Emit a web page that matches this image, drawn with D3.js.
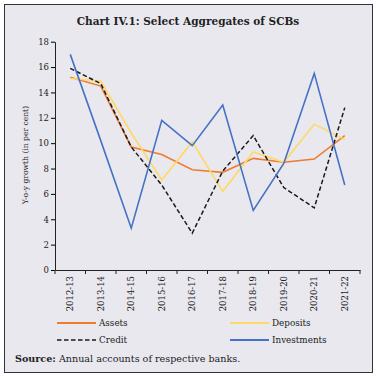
<!DOCTYPE html>
<html lang="en">
<head>
<meta charset="UTF-8">
<title>Chart IV.1: Select Aggregates of SCBs</title>
<script src="https://d3js.org/d3.v7.min.js"></script>
<style>
    body { margin: 0; background: #fff; }
    svg text { font-family: "DejaVu Serif", serif; fill: #222; }
</style>
</head>
<body>
<svg width="377" height="378"></svg>
<script>
    // data
    const years = ["2012-13","2013-14","2014-15","2015-16","2016-17","2017-18","2018-19","2019-20","2020-21","2021-22"];
    const assets      = [15.2, 14.5, 9.7, 9.1, 7.9, 7.7, 8.8, 8.5, 8.75, 10.6];
    const deposits    = [15.1, 14.9, 10.8, 7.1, 10.1, 6.2, 9.3, 8.5, 11.5, 10.3];
    const credit      = [15.9, 14.7, 9.7, 6.7, 2.9, 7.8, 10.6, 6.5, 4.9, 12.8];
    const investments = [17.0, 10.2, 3.3, 11.8, 9.8, 13.0, 4.7, 8.4, 15.5, 6.7];
    const yTicks = [0,2,4,6,8,10,12,14,16,18];

    const series = [
        {name: "Assets", values: assets, color: "#ed7d31", dash: null},
        {name: "Deposits", values: deposits, color: "#ffd966", dash: null},
        {name: "Credit", values: credit, color: "#1a1a1a", dash: "4.5,2.5"},
        {name: "Investments", values: investments, color: "#4472c4", dash: null}
    ];

    let svg = d3.select("svg");

    // frame
    svg.append("rect")
        .attr("x", 4.5).attr("y", 4.5)
        .attr("width", 368).attr("height", 368)
        .attr("fill", "#e9e8ee")
        .attr("stroke", "#333").attr("stroke-width", 1);

    svg.append("text")
        .attr("x", 188).attr("y", 25)
        .attr("text-anchor", "middle")
        .style("font-size", "10.5px").style("font-weight", "bold")
        .text("Chart IV.1: Select Aggregates of SCBs");

    let x = d3.scaleBand().domain(years).range([55, 360]);
    let y = d3.scaleLinear().domain([0, 18]).range([270, 41.7]);

    // y axis
    let yAxis = svg.append("g")
        .attr("transform", "translate(55,0)")
        .call(d3.axisLeft(y).tickValues(yTicks).tickSize(4).tickSizeOuter(0));
    yAxis.selectAll("text").style("font-size", "8.5px").attr("x", -6);

    // x axis, ticks on band edges
    let xAxis = svg.append("g")
        .attr("transform", "translate(0,270)")
        .call(d3.axisBottom(x).tickSize(0).tickSizeOuter(0));
    xAxis.selectAll(".tick line").remove();
    xAxis.selectAll(".edge")
        .data(d3.range(years.length + 1))
        .enter().append("line")
        .attr("x1", i => 55 + i * x.step()).attr("x2", i => 55 + i * x.step())
        .attr("y1", 0).attr("y2", 4)
        .attr("stroke", "#222");
    xAxis.selectAll(".tick text")
        .style("font-size", "8.5px")
        .attr("text-anchor", "end")
        .attr("transform", "rotate(-90)")
        .attr("x", -6).attr("y", 0).attr("dy", "0.35em");
    svg.selectAll(".domain").attr("stroke", "#222");

    svg.append("text")
        .attr("transform", "translate(28,155) rotate(-90)")
        .attr("text-anchor", "middle")
        .style("font-size", "7.6px")
        .text("Y-o-y growth (in per cent)");

    // lines
    let line = d3.line()
        .x((d, i) => x(years[i]) + x.bandwidth() / 2)
        .y(d => y(d));

    svg.append("g").selectAll("path")
        .data(series)
        .enter().append("path")
        .attr("d", d => line(d.values))
        .attr("fill", "none")
        .attr("stroke", d => d.color)
        .attr("stroke-width", d => d.dash ? 1.5 : 1.6)
        .attr("stroke-dasharray", d => d.dash);

    // legend
    let legendPos = [[57, 323], [230, 323], [57, 340], [230, 340]];
    let legend = svg.append("g").selectAll("g")
        .data(series)
        .enter().append("g")
        .attr("transform", (d, i) => `translate(${legendPos[i][0]},${legendPos[i][1]})`);
    legend.append("line")
        .attr("x1", 0).attr("x2", 39)
        .attr("stroke", d => d.color)
        .attr("stroke-width", d => d.dash ? 1.7 : 1.8)
        .attr("stroke-dasharray", d => d.dash);
    legend.append("text")
        .attr("x", 42).attr("dy", "0.35em")
        .style("font-size", "8.8px")
        .text(d => d.name);

    let src = svg.append("text")
        .attr("x", 15).attr("y", 362)
        .style("font-size", "9.6px");
    src.append("tspan").style("font-weight", "bold").text("Source:");
    src.append("tspan").text(" Annual accounts of respective banks.");
</script>
</body>
</html>
